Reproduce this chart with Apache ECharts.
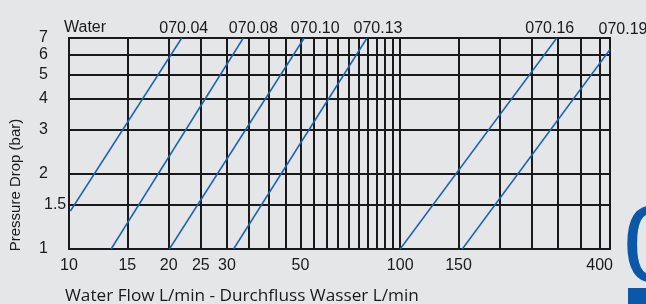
<!DOCTYPE html>
<html>
<head>
<meta charset="utf-8">
<script src="https://cdn.jsdelivr.net/npm/echarts@6/dist/echarts.min.js"></script>
<style>
  html, body { margin: 0; padding: 0; background: #e5e6e8; }
  #chart { width: 646px; height: 304px; }
</style>
</head>
<body>
<div id="chart"></div>
<script>
  // valve sizes, one straight line each (log-log)
  const seriesNames = ['070.04', '070.08', '070.10', '070.13', '070.16', '070.19'];
  const flowStart = [10.1, 13.4, 20.1, 31.4, 100, 154];
  const pressureStart = [1.42, 1, 1, 1, 1, 1];
  const flowEnd = [21.9, 33.6, 51.3, 79.4, 297, 430];
  const pressureEnd = [7, 7, 7, 7, 7, 6.3];

  // grid + labels
  const xGrid = [10, 15, 20, 25, 30, 35, 40, 45, 50, 55, 60, 65, 70, 75, 80, 85, 90, 95, 100, 150, 200, 250, 300, 350, 400];
  const xLabels = [10, 15, 20, 25, 30, 50, 100, 150, 400];
  const yGrid = [1, 1.5, 2, 3, 4, 5, 6, 7];
  const yLabels = [1, 1.5, 2, 3, 4, 5, 6, 7];

  // where the size label sits relative to the line's top end
  const labelOffset = [[2, 0], [10, 0], [11, 0], [11, 0], [-7, 0], [13, -11]];

  const ink = '#1a1a1a';
  const blue = '#1b62b2';
  const font = '"Liberation Sans", Arial, sans-serif';

  const chart = echarts.init(document.getElementById('chart'));

  chart.setOption({
    backgroundColor: '#e5e6e8',
    animation: false,
    title: [
      { text: 'Water', left: 59, top: 15,
        textStyle: { fontFamily: font, fontSize: 16, fontWeight: 'normal', color: ink } },
      { text: 'Water Flow L/min - Durchfluss Wasser L/min', left: 60, top: 283,
        textStyle: { fontFamily: '"Open Sans", sans-serif', fontSize: 17.2, fontWeight: 'normal', color: ink } }
    ],
    grid: {
      left: 67, right: 36, top: 38, bottom: 55,
      show: true, borderColor: ink, borderWidth: 2, backgroundColor: 'transparent'
    },
    xAxis: {
      type: 'log', logBase: 10, min: 10, max: 430,
      axisLine: { show: true, lineStyle: { color: ink, width: 2 } },
      axisTick: { show: false, customValues: xGrid },
      splitLine: { show: true, lineStyle: { color: ink, width: 2 } },
      axisLabel: {
        customValues: xLabels, margin: 9,
        fontFamily: font, fontSize: 16, color: ink
      }
    },
    yAxis: {
      type: 'log', logBase: 10, min: 1, max: 7.001,
      name: 'Pressure Drop (bar)', nameLocation: 'middle', nameRotate: 90, nameGap: 46,
      nameTextStyle: { fontFamily: font, fontSize: 15, color: ink, padding: [0, 83, 0, 0] },
      axisLine: { show: true, lineStyle: { color: ink, width: 2 } },
      axisTick: { show: false, customValues: yGrid },
      splitLine: { show: true, lineStyle: { color: ink, width: 2 } },
      axisLabel: {
        customValues: yLabels, margin: 30, align: 'left',
        fontFamily: font, fontSize: 16, color: ink,
        formatter: v => (v === 1.5 ? '{s|1.5}' : String(Math.round(v))),
        rich: { s: { fontFamily: font, fontSize: 16, color: ink, padding: [0, 0, 0, 5] } }
      }
    },
    series: seriesNames.map((name, i) => ({
      name: name,
      type: 'line',
      symbol: 'circle',
      symbolSize: 0,
      lineStyle: { color: blue, width: 1.5 },
      itemStyle: { color: blue },
      label: {
        show: true, position: 'top', distance: 1, offset: labelOffset[i],
        fontFamily: font, fontSize: 16, color: ink,
        formatter: p => (p.dataIndex === 1 ? p.seriesName : '')
      },
      data: [[flowStart[i], pressureStart[i]], [flowEnd[i], pressureEnd[i]]]
    })),
    graphic: [
      { type: 'text', left: 623, top: 197, z: 10,
        style: { text: '0', font: '110px "Liberation Sans"', fill: '#0b58a8' } },
      { type: 'rect', shape: { x: 628, y: 288, width: 18, height: 16 }, z: 10,
        style: { fill: '#0b58a8' } }
    ]
  });
</script>
</body>
</html>
